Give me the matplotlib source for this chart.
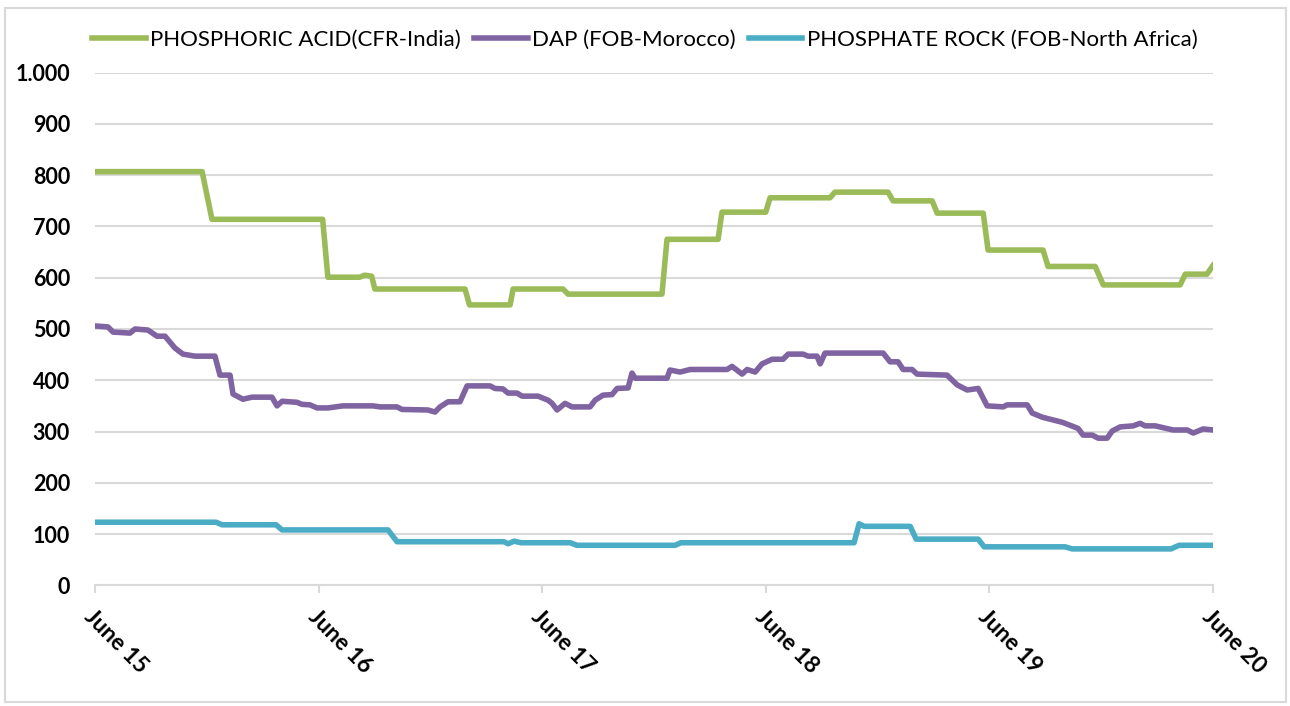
import matplotlib
matplotlib.use('Agg')
import matplotlib.pyplot as plt
from matplotlib.ticker import FuncFormatter
from matplotlib.patches import Rectangle

plt.rcParams['font.family'] = ['Lato', 'DejaVu Sans']

# Data: x = months since June 2015, y = USD/t
acid_x = [0, 5.75, 6.28, 12.22, 12.5, 14.2, 14.47, 14.85, 15.02, 19.86, 20.1, 22.28, 22.44,
          25.12, 25.39, 30.43, 30.7, 33.44, 33.65, 36.0, 36.23, 39.45, 39.71, 42.56, 42.83,
          44.93, 45.2, 47.67, 47.93, 50.88, 51.15, 53.68, 54.11, 58.24, 58.51, 59.68, 60]
acid_y = [807, 807, 714, 714, 601, 601, 605, 603, 578, 578, 547, 547, 578,
          578, 568, 568, 675, 675, 728, 728, 756, 756, 767, 767, 750,
          750, 726, 726, 654, 654, 622, 622, 586, 586, 607, 607, 624]

dap_x = [0, 0.70, 0.97, 1.88, 2.15, 2.84, 3.33, 3.76, 4.29, 4.72, 5.37, 6.44, 6.71, 7.25,
         7.41, 7.94, 8.43, 9.50, 9.77, 10.04, 10.84, 11.11, 11.54, 11.92, 12.51, 13.31,
         14.92, 15.30, 16.21, 16.48, 17.87, 18.25, 18.52, 18.95, 19.59, 19.97, 21.20, 21.47,
         21.90, 22.17, 22.65, 22.92, 23.78, 24.32, 24.53, 24.80, 25.23, 25.60, 26.57, 26.84,
         27.27, 27.75, 28.02, 28.61, 28.82, 28.99, 30.70, 30.86, 31.40, 31.94, 33.92, 34.19,
         34.73, 35.00, 35.43, 35.80, 36.34, 36.93, 37.20, 38.00, 38.27, 38.75, 38.92, 39.18,
         42.30, 42.67, 43.10, 43.37, 43.85, 44.12, 45.73, 46.27, 46.81, 47.40, 47.88, 48.74,
         48.95, 50.03, 50.30, 50.83, 51.26, 51.91, 52.34, 52.76, 53.03, 53.52, 53.84, 54.32,
         54.59, 55.02, 55.72, 56.09, 56.36, 56.90, 57.86, 58.62, 58.94, 59.47, 60]
dap_y = [506, 504, 494, 492, 500, 498, 486, 486, 463, 451, 447, 447, 410, 410,
         373, 363, 367, 367, 350, 359, 357, 353, 352, 346, 346, 350,
         350, 348, 348, 343, 342, 338, 348, 358, 358, 389, 389, 384,
         383, 375, 375, 369, 369, 361, 355, 342, 355, 348, 348, 361,
         371, 372, 384, 385, 414, 404, 404, 420, 416, 421, 421, 427,
         412, 421, 416, 432, 441, 441, 451, 451, 447, 447, 432, 453,
         453, 436, 436, 421, 421, 412, 410, 391, 381, 384, 350, 348,
         352, 352, 336, 328, 324, 318, 312, 306, 293, 293, 287, 287,
         301, 309, 311, 316, 311, 311, 303, 303, 297, 305, 303]

rock_x = [0, 6.5, 6.82, 9.72, 10.04, 15.73, 16.21, 21.95, 22.17, 22.49, 22.87, 25.5, 25.87,
          31.13, 31.45, 40.74, 41.01, 41.28, 43.75, 44.07, 47.4, 47.72, 52.06, 52.44,
          57.75, 58.18, 60]
rock_y = [123, 123, 118, 118, 108, 108, 85, 85, 81, 86, 83, 83, 78,
          78, 83, 83, 120, 115, 115, 90, 90, 75, 75, 71,
          71, 78, 78]

labels = ['PHOSPHORIC ACID(CFR-India)', 'DAP (FOB-Morocco)', 'PHOSPHATE ROCK (FOB-North Africa)']
tick_pos = [0, 12, 24, 36, 48, 60]
tick_labels = ['June 15', 'June 16', 'June 17', 'June 18', 'June 19', 'June 20']

fig = plt.figure(figsize=(12.9, 7.06), dpi=100)
ax = fig.add_axes([0.0736, 0.171, 0.8667, 0.726])

lw = 4.0
ax.plot(acid_x, acid_y, color='#9BBB59', lw=lw, label=labels[0], solid_joinstyle='round')
ax.plot(dap_x, dap_y, color='#8064A2', lw=lw, label=labels[1], solid_joinstyle='round')
ax.plot(rock_x, rock_y, color='#4BACC6', lw=lw, label=labels[2], solid_joinstyle='round')

ax.set_xlim(0, 60)
ax.set_ylim(0, 1000)
ax.set_yticks(range(0, 1001, 100))
ax.yaxis.set_major_formatter(FuncFormatter(lambda v, p: f'{int(v):,}'.replace(',', '.')))
ax.grid(axis='y', color='#d9d9d9', lw=1.5)
ax.set_axisbelow(True)
for s in ['top', 'right', 'left']:
    ax.spines[s].set_visible(False)
ax.spines['bottom'].set_color('#d9d9d9')
ax.spines['bottom'].set_linewidth(1.5)

ax.set_xticks(tick_pos)
ax.set_xticklabels(tick_labels, rotation=-45, ha='left', va='top', rotation_mode='anchor',
                   fontsize=16.5, fontweight='bold')
ax.tick_params(axis='x', length=6, width=1.5, color='#d9d9d9', pad=9)
ax.tick_params(axis='y', length=0, pad=18, labelsize=15.5)
for t in ax.get_yticklabels():
    t.set_fontweight('bold')

fig.legend(loc='center', bbox_to_anchor=(0.500, 0.943), ncol=3, frameon=False,
           fontsize=16, handlelength=2.4, columnspacing=0.6, handletextpad=0.2)

fig.patches.append(Rectangle((0.004, 0.006), 0.993, 0.982, transform=fig.transFigure,
                             fill=False, edgecolor='#d9d9d9', lw=1.5))

fig.savefig('out.png', dpi=100)
